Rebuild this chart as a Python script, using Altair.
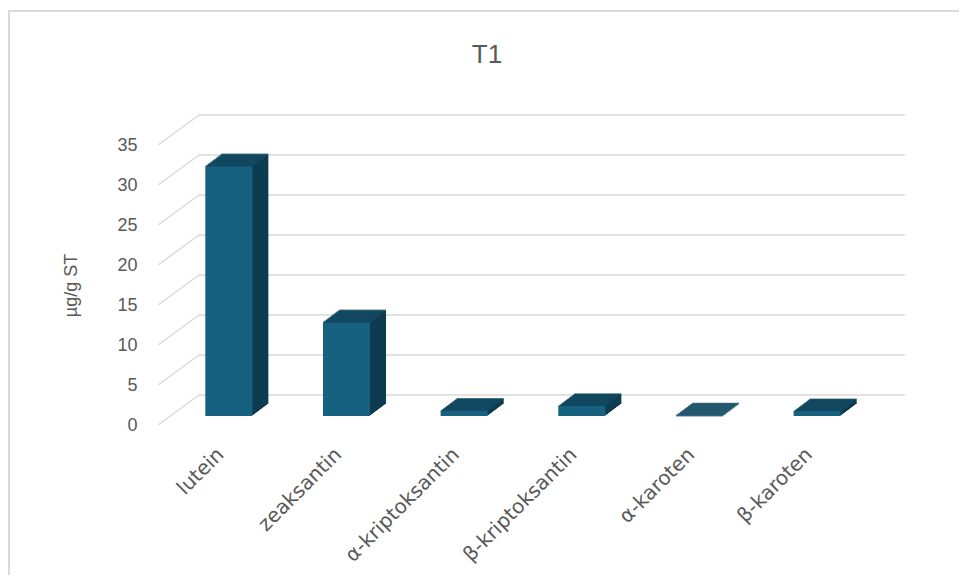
import altair as alt
import pandas as pd

categories = ["lutein", "zeaksantin", "α-kriptoksantin", "β-kriptoksantin", "α-karoten", "β-karoten"]
values = [31.2, 11.7, 0.65, 1.25, 0.05, 0.6]
tick_values = [0, 5, 10, 15, 20, 25, 30, 35]

df = pd.DataFrame({"pigment": categories, "value": values})
grid = pd.DataFrame({"v": tick_values})

W, H = 706, 280
DX, DY = 41, 30     # depth of the back wall
BX, BY = 12, 9      # bar front face offset from front plane
SX, SY = 16, 12     # bar depth
N = 12
FRONT = "#166080"
TOP = "#124b64"
SIDE = "#0d3c50"
GRID = "#d9d9d9"
TXT = "#595959"
FONT = "Liberation Sans"

y_scale = alt.Scale(domain=[0, 35], nice=False, zero=True)
y_axis = alt.Axis(title="µg/g ST", values=tick_values, grid=False, domain=False, ticks=False,
                  labelFontSize=18, labelColor=TXT, labelPadding=21, labelFont=FONT,
                  titleFontSize=18, titleFontWeight="normal", titleColor=TXT, titleFont=FONT,
                  titlePadding=36)
x_axis = alt.Axis(title=None, labelAngle=-45, labelFontSize=20, labelColor=TXT, labelFont="DejaVu Sans",
                  domain=False, ticks=False, grid=False, labelPadding=26, labelOffset=4,
                  labelAlign="right", labelBaseline="middle")
x_enc = alt.X("pigment:N", sort=categories,
              scale=alt.Scale(paddingInner=0.6, paddingOuter=0.3), axis=x_axis)

def yv(field):
    return alt.Y(field, type="quantitative", scale=y_scale, axis=y_axis, stack=None)

frame = alt.Chart(pd.DataFrame({"f": [0]})).mark_rect(
    fill=None, stroke=GRID, strokeWidth=2).encode(
    x=alt.value(-149), x2=alt.value(W + 120), y=alt.value(-134), y2=alt.value(H + 180))

back = alt.Chart(grid).mark_rule(color=GRID, strokeWidth=1.4, yOffset=-DY).encode(
    y=yv("v"), x=alt.value(DX), x2=alt.value(W + DX))
diag = alt.Chart(grid).mark_rule(color=GRID, strokeWidth=1.4, yOffset=0, y2Offset=-DY).encode(
    y=yv("v"), y2=alt.Y2("v"), x=alt.value(0), x2=alt.value(DX))

layers = [frame, back, diag]
for k in range(1, N + 1):
    ox = BX + k * SX / N
    oy = -(BY + k * SY / N)
    layers.append(alt.Chart(df).mark_bar(color=SIDE, xOffset=ox, yOffset=oy, y2Offset=oy).encode(
        x=x_enc, y=yv("value"), y2=alt.Y2(datum=0)))
for k in range(0, N + 1):
    ox = BX + k * SX / N
    oy = -(BY + k * SY / N)
    layers.append(alt.Chart(df).mark_tick(color=TOP, orient="horizontal", thickness=1.6, size=47,
                                          xOffset=ox, yOffset=oy).encode(x=x_enc, y=yv("value")))
layers.append(alt.Chart(df).mark_bar(color=FRONT, xOffset=BX, yOffset=-BY, y2Offset=-BY).encode(
    x=x_enc, y=yv("value"), y2=alt.Y2(datum=0)))

chart = alt.layer(*layers).properties(
    width=W, height=H,
    title=alt.TitleParams("T1", fontSize=26, fontWeight="normal", color=TXT, font=FONT,
                          frame="group", anchor="middle", dx=-24, offset=-58),
    autosize=alt.AutoSizeParams(type="none"),
    padding={"left": 150, "top": 137, "right": 95, "bottom": 150},
).configure_view(stroke=None)

chart.save("out.html", embed_options={"renderer": "svg", "actions": False})
